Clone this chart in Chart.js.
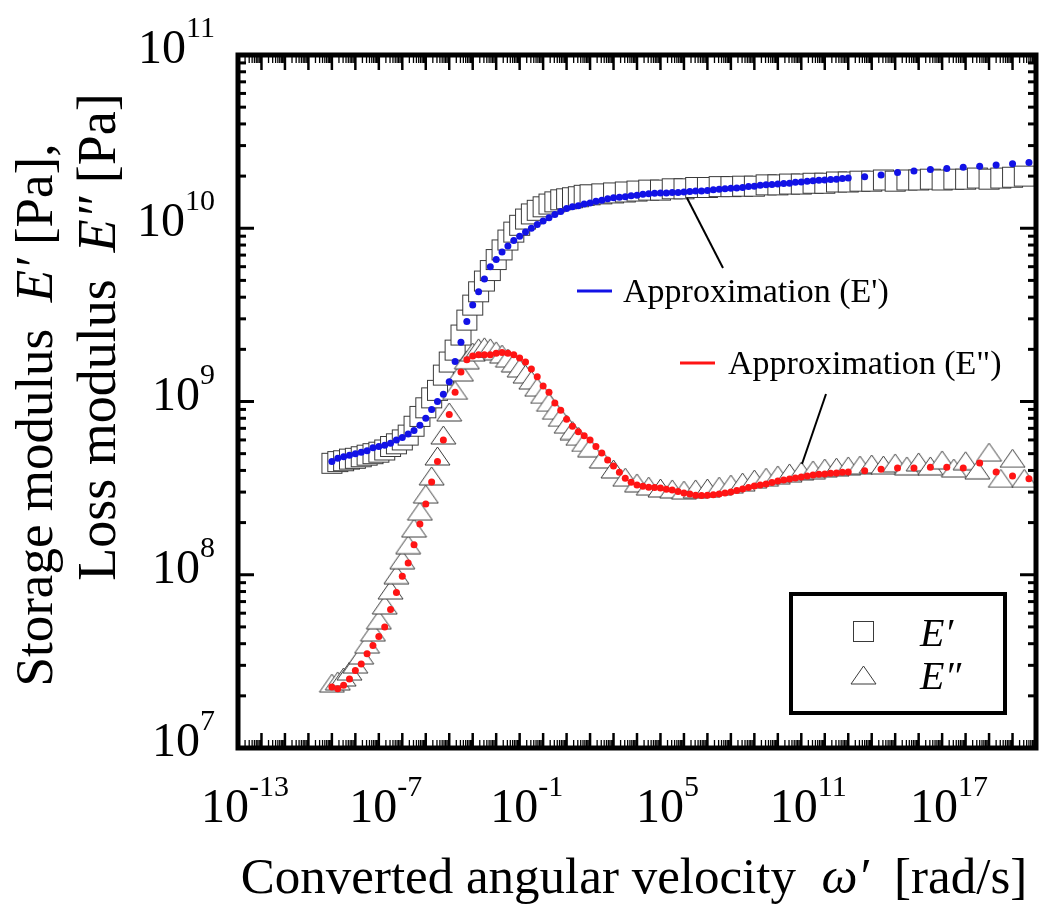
<!DOCTYPE html>
<html>
<head>
<meta charset="utf-8">
<script src="https://cdn.jsdelivr.net/npm/chart.js@4.4.0/dist/chart.umd.min.js"></script>
<style>
  body { margin: 0; background: #fff; }
  #wrap { width: 1047px; height: 911px; }
</style>
</head>
<body>
<div id="wrap"><canvas id="modulusChart" width="1047" height="911"></canvas></div>
<script>
// measured frequencies (converted angular velocity, rad/s)
var omegaMeas = [
  1e-9, 1.78e-9, 3.16e-9, 5.62e-9, 1e-8, 1.78e-8, 3.16e-8, 5.62e-8,
  1e-7, 1.78e-7, 3.16e-7, 5.62e-7, 1e-6, 1.78e-6, 3.16e-6, 5.62e-6,
  1e-5, 1.78e-5, 3.16e-5, 5.62e-5, 1e-4, 1.78e-4, 3.16e-4, 5.62e-4,
  1e-3, 1.78e-3, 3.16e-3, 5.62e-3, 1e-2, 1.78e-2, 3.16e-2, 5.62e-2,
  1e-1, 1.78e-1, 3.16e-1, 5.62e-1, 1, 1.78, 3.16, 5.62, 10, 17.8, 31.6, 56.2, 100,
  316, 1e3, 3.16e3, 1e4, 3.16e4, 1e5, 3.16e5, 1e6, 3.16e6, 1e7, 3.16e7, 1e8, 3.16e8,
  1e9, 3.16e9, 1e10, 3.16e10, 1e11, 3.16e11, 1e12, 3.16e12, 1e13, 3.16e13, 1e14, 3.16e14,
  1e15, 3.16e15, 1e16, 3.16e16, 1e17, 3.16e17, 1e18, 3.16e18, 1e19, 3.16e19, 1e20, 3.16e20
];
// E' measured (squares), Pa
var storageMeas = [
  4.4e8, 4.5e8, 4.55e8, 4.65e8, 4.7e8, 4.8e8, 4.9e8, 5.0e8, 5.1e8, 5.25e8, 5.5e8, 5.7e8,
  6.0e8, 6.4e8, 7.2e8, 8.2e8, 9.2e8, 1.05e9, 1.16e9, 1.42e9, 1.69e9, 1.98e9, 2.42e9, 2.95e9,
  3.6e9, 4.3e9, 4.96e9, 5.7e9, 6.6e9, 7.5e9, 8.55e9, 9.5e9, 1.04e10, 1.13e10, 1.21e10, 1.27e10,
  1.33e10, 1.38e10, 1.42e10, 1.46e10, 1.48e10, 1.5e10, 1.52e10, 1.55e10, 1.56e10,
  1.58e10, 1.6e10, 1.62e10, 1.64e10, 1.66e10, 1.66e10, 1.69e10, 1.69e10, 1.72e10, 1.72e10,
  1.74e10, 1.74e10, 1.75e10, 1.75e10, 1.78e10, 1.78e10, 1.8e10, 1.8e10, 1.82e10, 1.82e10,
  1.85e10, 1.85e10, 1.87e10, 1.87e10, 1.9e10, 1.87e10, 1.9e10, 1.9e10, 1.92e10, 1.9e10,
  1.92e10, 1.92e10, 1.95e10, 1.92e10, 1.95e10, 1.97e10, 2.0e10
];
// E'' measured (triangles), Pa
var lossMeas = [
  2.37e7, 2.44e7, 2.57e7, 2.78e7, 3.05e7, 3.44e7, 3.98e7, 4.67e7, 5.49e7, 6.69e7, 8.16e7, 1.0e8,
  1.22e8, 1.49e8, 1.86e8, 2.33e8, 2.92e8, 3.72e8, 4.85e8, 6.41e8, 8.7e8, 1.16e9, 1.48e9, 1.74e9,
  1.93e9, 2.04e9, 2.07e9, 2.04e9, 1.96e9, 1.88e9, 1.78e9, 1.67e9, 1.56e9, 1.44e9, 1.33e9, 1.21e9,
  1.10e9, 9.9e8, 8.9e8, 8.1e8, 7.4e8, 6.8e8, 6.3e8, 5.8e8, 5.4e8,
  4.66e8, 4.08e8, 3.66e8, 3.39e8, 3.25e8, 3.17e8, 3.13e8, 3.08e8, 3.13e8, 3.17e8,
  3.25e8, 3.34e8, 3.43e8, 3.57e8, 3.66e8, 3.77e8, 3.87e8, 3.97e8, 4.03e8, 4.13e8,
  4.18e8, 4.25e8, 4.3e8, 4.36e8, 4.3e8, 4.42e8, 4.25e8, 4.48e8, 4.25e8, 4.6e8,
  4.13e8, 4.55e8, 4.03e8, 5.1e8, 3.6e8, 4.7e8, 3.6e8
];

// frequencies of the approximation curves
var omegaFit = [
  1e-9, 1.78e-9, 3.16e-9, 5.62e-9, 1e-8, 1.78e-8, 3.16e-8, 5.62e-8,
  1e-7, 1.78e-7, 3.16e-7, 5.62e-7, 1e-6, 1.78e-6, 3.16e-6, 5.62e-6,
  1e-5, 1.78e-5, 3.16e-5, 5.62e-5, 1e-4, 1.78e-4, 3.16e-4, 5.62e-4,
  1e-3, 1.78e-3, 3.16e-3, 5.62e-3, 1e-2, 1.78e-2, 3.16e-2, 5.62e-2,
  1e-1, 1.78e-1, 3.16e-1, 5.62e-1, 1, 1.78, 3.16, 5.62, 10,
  17.8, 31.6, 56.2, 100, 178, 316, 562, 1e3, 1.78e3, 3.16e3, 5.62e3, 1e4,
  1.78e4, 3.16e4, 5.62e4, 1e5, 1.78e5, 3.16e5, 5.62e5, 1e6, 1.78e6, 3.16e6, 5.62e6, 1e7,
  1.78e7, 3.16e7, 5.62e7, 1e8, 1.78e8, 3.16e8, 5.62e8, 1e9, 1.78e9, 3.16e9, 5.62e9, 1e10,
  1.78e10, 3.16e10, 5.62e10, 1e11, 1.78e11, 3.16e11, 5.62e11, 1e12, 1.78e12, 3.16e12, 5.62e12, 1e13,
  5.01e13, 2.51e14, 1.26e15, 6.31e15, 3.16e16, 1.58e17, 7.94e17, 3.98e18, 2.0e19, 1e20, 5.01e20
];
// E' approximation (blue dots), Pa
var storageFit = [
  4.5e8, 4.7e8, 4.8e8, 4.9e8, 5.0e8, 5.1e8, 5.2e8, 5.4e8, 5.5e8, 5.6e8, 5.75e8, 6.0e8,
  6.2e8, 6.5e8, 6.8e8, 7.3e8, 8.0e8, 9.0e8, 1.0e9, 1.1e9, 1.3e9, 1.7e9, 2.2e9, 2.9e9,
  3.6e9, 4.3e9, 5.1e9, 6.0e9, 6.6e9, 7.3e9, 7.9e9, 8.5e9, 9.0e9, 9.5e9, 1.0e10, 1.05e10,
  1.1e10, 1.15e10, 1.2e10, 1.25e10, 1.3e10,
  1.33e10, 1.35e10, 1.38e10, 1.4e10, 1.43e10, 1.45e10, 1.48e10, 1.5e10, 1.51e10, 1.52e10, 1.54e10, 1.55e10,
  1.57e10, 1.58e10, 1.59e10, 1.6e10, 1.6e10, 1.61e10, 1.61e10, 1.62e10, 1.63e10, 1.64e10, 1.64e10, 1.65e10,
  1.67e10, 1.68e10, 1.69e10, 1.7e10, 1.71e10, 1.72e10, 1.74e10, 1.75e10, 1.77e10, 1.78e10, 1.79e10, 1.8e10,
  1.81e10, 1.82e10, 1.84e10, 1.85e10, 1.87e10, 1.88e10, 1.89e10, 1.9e10, 1.91e10, 1.92e10, 1.94e10, 1.95e10,
  1.98e10, 2.03e10, 2.1e10, 2.14e10, 2.18e10, 2.21e10, 2.25e10, 2.28e10, 2.32e10, 2.36e10, 2.4e10
];
// E'' approximation (red dots), Pa
var lossFit = [
  2.25e7, 2.2e7, 2.3e7, 2.5e7, 2.8e7, 3.05e7, 3.5e7, 3.9e7, 4.4e7, 5.0e7, 6.3e7, 7.9e7,
  9.8e7, 1.17e8, 1.49e8, 1.96e8, 2.56e8, 3.43e8, 4.5e8, 6.0e8, 8.4e8, 1.13e9, 1.48e9, 1.74e9,
  1.83e9, 1.86e9, 1.86e9, 1.86e9, 1.9e9, 1.92e9, 1.9e9, 1.86e9, 1.78e9, 1.69e9, 1.54e9, 1.39e9,
  1.23e9, 1.13e9, 9.8e8, 8.9e8, 7.9e8,
  7.2e8, 6.7e8, 6.35e8, 6.0e8, 5.5e8, 5.05e8, 4.6e8, 4.25e8, 3.9e8, 3.6e8, 3.42e8, 3.3e8,
  3.24e8, 3.2e8, 3.19e8, 3.17e8, 3.12e8, 3.08e8, 3.02e8, 2.96e8, 2.92e8, 2.88e8, 2.87e8, 2.88e8,
  2.9e8, 2.92e8, 2.96e8, 3.0e8, 3.06e8, 3.13e8, 3.19e8, 3.25e8, 3.3e8, 3.34e8, 3.41e8, 3.48e8,
  3.52e8, 3.57e8, 3.62e8, 3.67e8, 3.72e8, 3.77e8, 3.8e8, 3.82e8, 3.85e8, 3.87e8, 3.9e8, 3.92e8,
  3.99e8, 4.07e8, 4.13e8, 4.13e8, 4.18e8, 4.18e8, 4.13e8, 4.42e8, 3.92e8, 3.72e8, 3.58e8
];

// tick labels (powers of ten)
var xTickExp = [-13, -7, -1, 5, 11, 17];
var yTickExp = [7, 8, 9, 10, 11];

var serif = '"Liberation Serif", "Times New Roman", serif';
var blue = '#1212e6';
var red = '#ff1414';

function makeSquare(side) {
  var c = document.createElement('canvas');
  c.width = side + 2; c.height = side + 2;
  var g = c.getContext('2d');
  g.fillStyle = '#fff';
  g.fillRect(1, 1, side, side);
  g.strokeStyle = '#3a3a3a';
  g.lineWidth = 1;
  g.strokeRect(1.5, 1.5, side - 1, side - 1);
  return c;
}

function makeTriangle(w, h) {
  var c = document.createElement('canvas');
  c.width = w + 2; c.height = h + 2;
  var g = c.getContext('2d');
  g.beginPath();
  g.moveTo(1 + w / 2, 1);
  g.lineTo(w + 1, h + 1);
  g.lineTo(1, h + 1);
  g.closePath();
  g.fillStyle = '#fff';
  g.fill();
  g.strokeStyle = '#3a3a3a';
  g.lineWidth = 1;
  g.stroke();
  return c;
}

var squareImg = makeSquare(21);
var triImg = makeTriangle(25, 18);

function toPoints(xs, ys) {
  return xs.map(function (x, i) { return { x: x, y: ys[i] }; });
}

// text made of pieces (font size, italic, vertical shift)
function drawRich(ctx, parts, x, y, align) {
  var total = 0;
  parts.forEach(function (p) {
    ctx.font = (p.italic ? 'italic ' : '') + p.size + 'px ' + serif;
    p.w = ctx.measureText(p.t).width;
    total += p.w;
  });
  var cx = x;
  if (align === 'center') cx = x - total / 2;
  if (align === 'right') cx = x - total;
  ctx.textAlign = 'left';
  ctx.textBaseline = 'alphabetic';
  parts.forEach(function (p) {
    ctx.font = (p.italic ? 'italic ' : '') + p.size + 'px ' + serif;
    ctx.fillText(p.t, cx, y + (p.dy || 0));
    cx += p.w;
  });
}

function powLabel(e) {
  return [{ t: '10', size: 48 }, { t: String(e), size: 30, dy: -26 }];
}

function line(ctx, x1, y1, x2, y2) {
  ctx.beginPath();
  ctx.moveTo(x1, y1);
  ctx.lineTo(x2, y2);
  ctx.stroke();
}

//-------------
//- DECORATION -
//-------------
var decoPlugin = {
  id: 'deco',
  beforeDraw: function (chart) {
    var ctx = chart.ctx;
    ctx.save();
    ctx.fillStyle = '#fff';
    ctx.fillRect(0, 0, chart.width, chart.height);
    ctx.restore();
  },
  afterDatasetsDraw: function (chart) {
    var ctx = chart.ctx;
    var a = chart.chartArea;
    var xs = chart.scales.x, ys = chart.scales.y;
    ctx.save();
    ctx.strokeStyle = '#000';
    ctx.fillStyle = '#000';

    // ticks on all four sides, pointing in
    var k, m, v, p, len;
    for (k = -13; k <= 21; k++) {
      for (m = 1; m <= 9; m++) {
        v = m * Math.pow(10, k);
        if (v > 1e21 * 1.0001) continue;
        p = xs.getPixelForValue(v);
        len = m === 1 ? 15 : 8;
        ctx.lineWidth = m === 1 ? 2.5 : 1.3;
        line(ctx, p, a.bottom, p, a.bottom - len);
        line(ctx, p, a.top, p, a.top + len);
      }
    }
    for (k = 7; k <= 11; k++) {
      for (m = 1; m <= 9; m++) {
        v = m * Math.pow(10, k);
        if (v > 1e11 * 1.0001) continue;
        p = ys.getPixelForValue(v);
        len = m === 1 ? 16 : 8;
        ctx.lineWidth = 3;
        line(ctx, a.left, p, a.left + len, p);
        line(ctx, a.right, p, a.right - len, p);
      }
    }

    // frame
    ctx.lineWidth = 5;
    ctx.strokeRect(a.left, a.top, a.right - a.left, a.bottom - a.top);

    // tick labels
    yTickExp.forEach(function (e) {
      var py = ys.getPixelForValue(Math.pow(10, e));
      drawRich(ctx, powLabel(e), 215, py + 8, 'right');
    });
    xTickExp.forEach(function (e) {
      var px = xs.getPixelForValue(Math.pow(10, e));
      drawRich(ctx, powLabel(e), px + 7, 822, 'center');
    });

    // axis titles
    drawRich(ctx, [
      { t: 'Converted angular velocity  ', size: 51 },
      { t: 'ω′', size: 51, italic: true },
      { t: '  [rad/s]', size: 51 }
    ], 634, 893, 'center');

    ctx.save();
    ctx.translate(52, 415);
    ctx.rotate(-Math.PI / 2);
    drawRich(ctx, [
      { t: 'Storage modulus  ', size: 53 },
      { t: 'E′', size: 53, italic: true },
      { t: ' [Pa],', size: 53 }
    ], 0, 0, 'center');
    ctx.restore();
    ctx.save();
    ctx.translate(115, 337);
    ctx.rotate(-Math.PI / 2);
    drawRich(ctx, [
      { t: 'Loss modulus  ', size: 54 },
      { t: 'E″', size: 54, italic: true },
      { t: ' [Pa]', size: 54 }
    ], 0, 0, 'center');
    ctx.restore();

    // approximation labels with leader lines
    ctx.lineWidth = 2;
    ctx.strokeStyle = '#000';
    line(ctx, 687, 198, 723, 268);
    line(ctx, 826, 394, 802, 464);
    ctx.lineWidth = 3;
    ctx.strokeStyle = blue;
    line(ctx, 577, 291, 612, 291);
    ctx.strokeStyle = red;
    line(ctx, 680, 363, 715, 363);
    ctx.fillStyle = '#000';
    drawRich(ctx, [{ t: "Approximation (E')", size: 34 }], 623, 302, 'left');
    drawRich(ctx, [{ t: 'Approximation (E")', size: 34 }], 728, 374, 'left');

    // legend box
    ctx.fillStyle = '#fff';
    ctx.fillRect(791, 594, 214, 119);
    ctx.strokeStyle = '#000';
    ctx.lineWidth = 4;
    ctx.strokeRect(791, 594, 214, 119);
    ctx.drawImage(squareImg, 863.5 - squareImg.width / 2, 631.5 - squareImg.height / 2);
    ctx.drawImage(triImg, 863.5 - triImg.width / 2, 675 - triImg.height / 2);
    ctx.fillStyle = '#000';
    drawRich(ctx, [{ t: 'E′', size: 40, italic: true }], 920, 646, 'left');
    drawRich(ctx, [{ t: 'E″', size: 40, italic: true }], 920, 689, 'left');

    ctx.restore();
  }
};

var chartCtx = document.getElementById('modulusChart').getContext('2d');
var modulusChart = new Chart(chartCtx, {
  type: 'scatter',
  data: {
    datasets: [
      {
        label: "Approximation (E')",
        data: toPoints(omegaFit, storageFit),
        pointStyle: 'circle',
        pointRadius: 3.5,
        pointBackgroundColor: blue,
        pointBorderWidth: 0,
        order: 1
      },
      {
        label: 'Approximation (E")',
        data: toPoints(omegaFit, lossFit),
        pointStyle: 'circle',
        pointRadius: 3.5,
        pointBackgroundColor: red,
        pointBorderWidth: 0,
        order: 0
      },
      {
        label: "E'",
        data: toPoints(omegaMeas, storageMeas),
        pointStyle: squareImg,
        pointRadius: 10,
        order: 3
      },
      {
        label: 'E"',
        data: toPoints(omegaMeas, lossMeas),
        pointStyle: triImg,
        pointRadius: 10,
        order: 2
      }
    ]
  },
  options: {
    responsive: false,
    animation: false,
    layout: { padding: { top: 55, right: 3, left: 0, bottom: 0 } },
    plugins: { legend: { display: false }, tooltip: { enabled: false } },
    datasets: { scatter: { clip: 0 } },
    scales: {
      x: {
        type: 'logarithmic',
        min: 1e-13,
        max: 1e21,
        ticks: { display: false },
        grid: { display: false },
        border: { display: false },
        afterFit: function (s) { s.height = 163; }
      },
      y: {
        type: 'logarithmic',
        min: 1e7,
        max: 1e11,
        ticks: { display: false },
        grid: { display: false },
        border: { display: false },
        afterFit: function (s) { s.width = 238; }
      }
    }
  },
  plugins: [decoPlugin]
});
</script>
</body>
</html>
